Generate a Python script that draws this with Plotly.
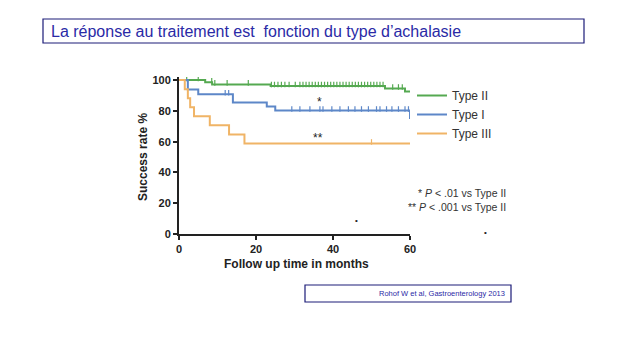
import plotly.graph_objects as go

# ---- data ----
type2_t = [0, 6.8, 8.6, 23.8, 53.5, 58.7, 60]
type2_s = [100, 98.6, 97.2, 96.1, 94.5, 92.6, 92.6]
type2_cens = [2, 5, 8.5, 9.3, 12.5, 18, 24, 24.8, 25.7, 26.6, 27.5, 28.6, 30.2, 31.4,
              32.2, 33, 33.8, 34.6, 35.4, 36.2, 37, 37.8, 38.6, 39.4, 40.2, 41, 41.8,
              42.6, 43.4, 44.2, 45, 45.8, 46.6, 47.4, 48.2, 49, 49.8, 50.6, 51.4, 52.2,
              53, 55.5, 57, 58]

type1_t = [0, 2.3, 5.0, 14.0, 22.8, 25.0, 60, 60]
type1_s = [100, 93.8, 90.8, 85.5, 82.8, 80.2, 80.2, 74.7]
type1_cens = [12, 12.9, 29.3, 31.4, 34, 36.6, 37.4, 39.7, 41.8, 44, 45.7, 47.4, 49.2,
              51.3, 52.2, 53.9, 55.3, 57, 58.7, 59.6]

type3_t = [0, 1.5, 2.3, 2.9, 3.9, 8.0, 13.0, 17.0, 60]
type3_s = [100, 94.1, 88.2, 82.4, 76.5, 70.6, 64.7, 58.8, 58.8]
type3_cens = [50]

series = [
    ("Type II", type2_t, type2_s, type2_cens, "#55a951"),
    ("Type I", type1_t, type1_s, type1_cens, "#5d87c8"),
    ("Type III", type3_t, type3_s, type3_cens, "#f0b466"),
]

x_ticks = [0, 20, 40, 60]
y_ticks = [0, 20, 40, 60, 80, 100]


def step_value(ts, ss, t):
    v = ss[0]
    for ti, si in zip(ts, ss):
        if ti <= t:
            v = si
    return v


fig = go.Figure()
for name, ts, ss, cens, col in series:
    fig.add_trace(go.Scatter(x=ts, y=ss, mode="lines", line=dict(color=col, width=2, shape="hv"),
                             name=name))
    fig.add_trace(go.Scatter(x=cens, y=[step_value(ts, ss, c) + 1.0 for c in cens], mode="markers",
                             marker=dict(symbol="line-ns", size=4, line=dict(color=col, width=1.2)),
                             showlegend=False, hoverinfo="skip"))

# page offset (body margin) and plot area in screen px: x 179..410, y 77..234
OFF = 8
W, H = 630, 351
SL, SR, ST, SB = 179, 410, 77, 234
L, R, T, B = SL - OFF, SR - OFF, ST - OFF, SB - OFF


def px(p):
    return (p - SL) / (SR - SL)


def py(q):
    return (SB - q) / (SB - ST)


font_fam = "Liberation Sans, Arial, sans-serif"

fig.update_layout(
    width=W, height=H,
    margin=dict(l=L, r=W - R, t=T, b=H - B, pad=0),
    paper_bgcolor="white", plot_bgcolor="white",
    font=dict(family=font_fam, color="#222"),
    showlegend=True,
    legend=dict(x=px(412), y=py(81), xanchor="left", yanchor="top", itemwidth=30,
                font=dict(size=12, color="#333", family=font_fam), bgcolor="rgba(0,0,0,0)",
                tracegroupgap=0),
    xaxis=dict(range=[0, 60], tickvals=x_ticks, showgrid=False, zeroline=False,
               showline=True, linecolor="#222", linewidth=2, ticks="outside", ticklen=4,
               tickwidth=2, tickcolor="#222",
               tickfont=dict(size=11, color="#222", weight="bold")),
    yaxis=dict(range=[0, 102], tickvals=y_ticks, showgrid=False, zeroline=False,
               showline=True, linecolor="#222", linewidth=2, ticks="outside", ticklen=4,
               tickwidth=2, tickcolor="#222",
               tickfont=dict(size=11, color="#222", weight="bold")),
)

shapes = [
    dict(type="rect", xref="paper", yref="paper", x0=px(43), x1=px(584), y0=py(43), y1=py(19),
         line=dict(color="#1c1c78", width=1.2), fillcolor="rgba(0,0,0,0)"),
    dict(type="rect", xref="paper", yref="paper", x0=px(305), x1=px(511), y0=py(302), y1=py(285),
         line=dict(color="#1c1c78", width=1.2), fillcolor="rgba(0,0,0,0)"),
]
fig.update_layout(shapes=shapes)

ann = [
    dict(xref="paper", yref="paper", x=px(49), y=py(31), xanchor="left", yanchor="middle",
         text="La réponse au traitement est  fonction du type d’achalasie", showarrow=False,
         font=dict(size=16, color="#2a2aa6", family=font_fam)),
    dict(xref="paper", yref="paper", x=px(507), y=py(293.5), xanchor="right", yanchor="middle",
         text="Rohof W et al, Gastroenterology 2013", showarrow=False,
         font=dict(size=7.5, color="#2a2aa6", family=font_fam)),
    dict(xref="paper", yref="paper", x=px(143), y=py(157), xanchor="center", yanchor="middle",
         text="<b>Success rate %</b>", textangle=-90, showarrow=False,
         font=dict(size=12, color="#222", family=font_fam)),
    dict(xref="paper", yref="paper", x=px(296), y=py(264), xanchor="center", yanchor="middle",
         text="<b>Follow up time in months</b>", showarrow=False,
         font=dict(size=12, color="#222", family=font_fam)),
    dict(x=36.6, y=85.5, xref="x", yref="y", text="*", showarrow=False,
         font=dict(size=12, color="#222", family=font_fam)),
    dict(x=36.2, y=62.5, xref="x", yref="y", text="**", showarrow=False,
         font=dict(size=12, color="#222", family=font_fam)),
    dict(xref="paper", yref="paper", x=px(508), y=py(193), xanchor="right", yanchor="middle",
         text="* <i>P</i> < .01 vs Type II", showarrow=False,
         font=dict(size=10.5, color="#333", family=font_fam)),
    dict(xref="paper", yref="paper", x=px(508), y=py(207), xanchor="right", yanchor="middle",
         text="** <i>P</i> < .001 vs Type II", showarrow=False,
         font=dict(size=10.5, color="#333", family=font_fam)),
    dict(xref="paper", yref="paper", x=px(360), y=py(227), text="•", showarrow=False,
         font=dict(size=8, color="#222")),
    dict(xref="paper", yref="paper", x=px(489), y=py(239), text="•", showarrow=False,
         font=dict(size=8, color="#222")),
]
fig.update_layout(annotations=ann)

fig.write_html("out.html")
